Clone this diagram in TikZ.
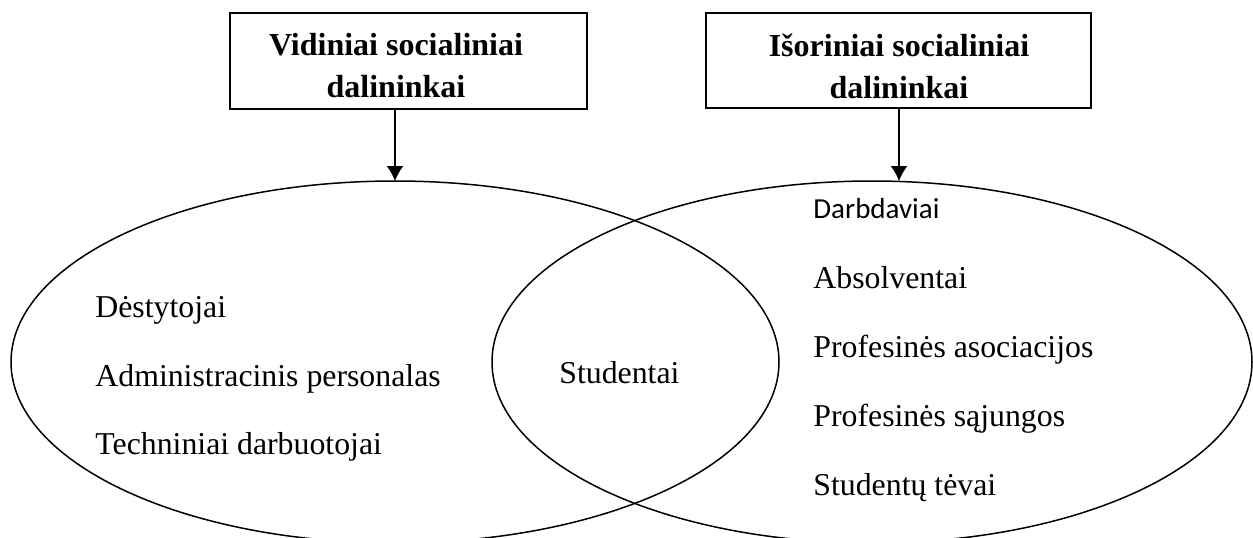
\documentclass[tikz,border=0pt]{standalone}
\usepackage{fontspec}
\setmainfont{Liberation Serif}
\newfontfamily\calibri{Carlito}
\usetikzlibrary{shapes.geometric,arrows.meta}
\tikzset{>={Latex[length=7.5pt,width=8.5pt]}}
\tikzset{
  headbox/.style = {draw, line width=1pt, inner sep=0pt, outer sep=0pt},
  headtext/.style = {align=center, inner sep=0pt, font=\fontsize{16}{21}\selectfont\bfseries},
  group/.style = {draw, ellipse, line width=0.75pt, inner sep=0pt, outer sep=0pt, minimum height=181pt},
  item/.style = {anchor=base west, inner sep=0pt, font=\fontsize{15.9}{19}\selectfont}
}

\begin{document}
\begin{tikzpicture}[x=0.5pt,y=-0.5pt]
  \useasboundingbox (0,0) rectangle (1253,537);
  \node[headbox, minimum width=178.5pt, minimum height=48pt] (vidbox) at (408.5,61) {};
  \node[headtext] (vid) at (396,66) {Vidiniai socialiniai\\dalininkai};
  \node[headbox, minimum width=192.5pt, minimum height=47.5pt] (isorbox) at (898.5,60.5) {};
  \node[headtext] (isor) at (899,66) {Išoriniai socialiniai\\dalininkai};
  \node[group, minimum width=384pt] (videll) at (395,362) {};
  \node[group, minimum width=380pt] (isorell) at (872,362) {};
  \draw[->, line width=0.75pt] (videll.north |- vidbox.south) -- (videll.north);
  \draw[->, line width=0.75pt] (isor.south |- isorbox.south) -- (isor.south |- isorell.north);
  \node[item] (dest) at (95,317) {Dėstytojai};
  \node[item] (admin) at (95,386) {Administracinis personalas};
  \node[item] (techn) at (95,454) {Techniniai darbuotojai};
  \node[item] (stud) at (559,383) {Studentai};
  \node[item, font=\calibri\fontsize{14.5}{17}\selectfont] (darb) at (813,218) {Darbdaviai};
  \node[item] (absol) at (813,288) {Absolventai};
  \node[item] (profa) at (813,357) {Profesinės asociacijos};
  \node[item] (profs) at (813,426) {Profesinės sąjungos};
  \node[item] (tevai) at (813,495) {Studentų tėvai};
\end{tikzpicture}
\end{document}
